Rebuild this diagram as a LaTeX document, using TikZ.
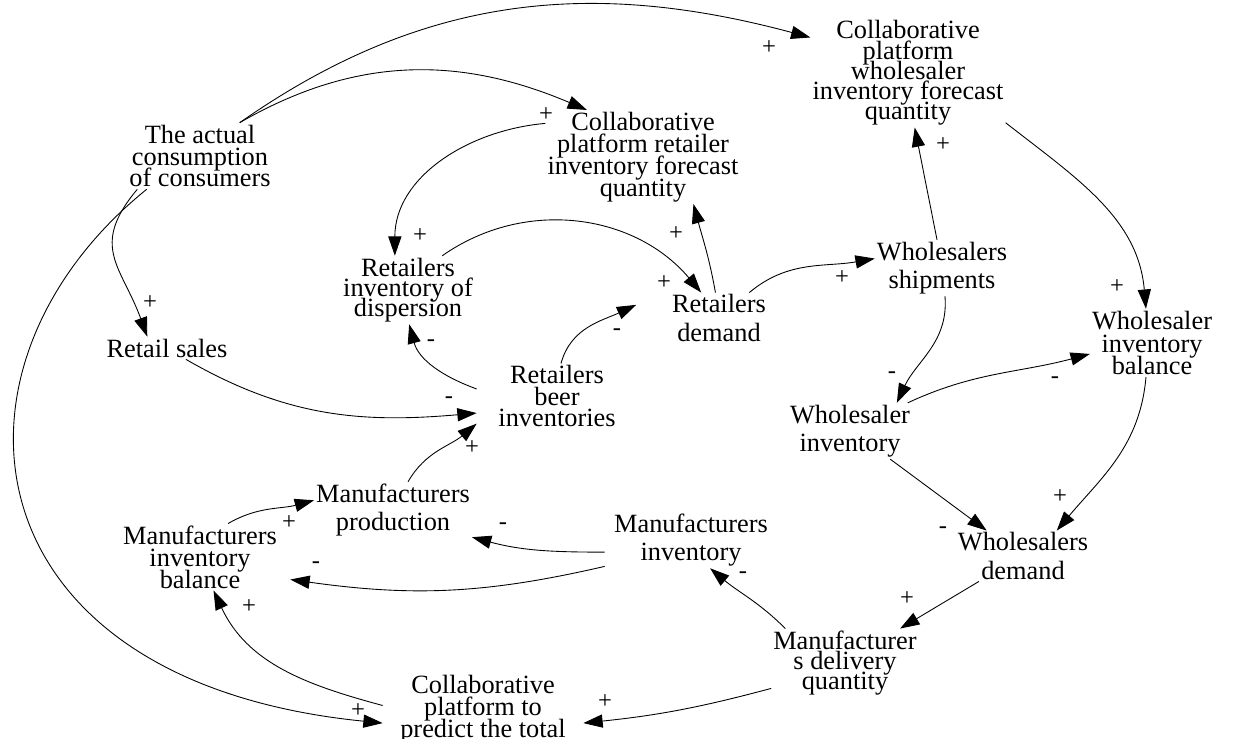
\documentclass[tikz,border=0pt]{standalone}
\usepackage{fontspec}
\setmainfont{Liberation Serif}
\usepackage{tikz}
\usetikzlibrary{arrows.meta}
\newcommand{\varfont}[1]{\fontsize{15}{#1}\selectfont\lineskiplimit=-20pt\relax}
\newcommand{\pairfont}{\fontsize{15}{16}\selectfont}
\newcommand{\signfont}{\fontsize{14}{14}\selectfont}

\begin{document}
\begin{tikzpicture}[
  x=0.02cm, y=0.02cm,
  var/.style={align=center,font=\varfont{12.5},inner sep=1pt},
  pair/.style={var,font=\pairfont},
  sgn/.style={font=\signfont,inner sep=0pt},
  link/.style={-{Triangle[length=11pt,width=7.5pt]},line width=0.5pt}
]
\useasboundingbox (0,0) rectangle (1235,-739);
% variables
\node[var] (actual) at (200,-156) {The actual\\consumption\\of consumers};
\node[var] (retfc) at (643,-157) {Collaborative\\platform retailer\\inventory forecast\\quantity};
\node[var,font=\varfont{11.5}] (whfc) at (908,-73) {Collaborative\\platform\\wholesaler\\inventory forecast\\quantity};
\node[var,font=\varfont{11.5}] (retdisp) at (408,-290) {Retailers\\inventory of\\dispersion};
\node[pair,minimum width=3.3cm] (retdem) at (719,-318) {Retailers\\demand};
\node[pair] (whship) at (942,-268) {Wholesalers\\shipments};
\node[var] (retsales) at (167,-348) {Retail sales};
\node[var,minimum width=3.2cm,font=\varfont{12}] (beer) at (557,-396) {Retailers\\beer\\inventories};
\node[var,font=\varfont{13}] (whbal) at (1152,-343) {Wholesaler\\inventory\\balance};
\node[pair] (whinv) at (850,-431) {Wholesaler\\inventory};
\node[pair] (mprod) at (393,-510) {Manufacturers\\production};
\node[pair,minimum width=3.44cm] (minv) at (691,-540) {Manufacturers\\inventory};
\node[var,minimum width=3.6cm] (mbal) at (200,-557) {Manufacturers\\inventory\\balance};
\node[pair] (whdem) at (1023,-556) {Wholesalers\\demand};
\node[var,font=\varfont{11.5}] (mdel) at (845,-663) {Manufacturer\\s delivery\\quantity};
\node[var,minimum width=4cm] (cptotal) at (483,-709) {Collaborative\\platform to\\predict the total};
% causal links
\draw[link] (actual.40) to[out=35,in=165] (whfc.160);
\draw[link] (actual.40) to[out=30,in=157] (retfc.140);
\draw[link] (retfc.161) to[out=185,in=90] (retdisp.111);
\draw[link] (retdisp.45) to[out=35,in=130] (retdem.125);
\draw[link] (retdem.98) to[out=100,in=-75] (retfc.-43);
\draw[link] (retdem.40) to[out=40,in=190] (whship.172);
\draw[link] (whship.100) -- (whfc.-83);
\draw[link] (whfc.-27) to[out=-38,in=95] (whbal.100);
\draw[link] (beer.175) to[out=160,in=-75] (retdisp.-88);
\draw[link] (beer.83) to[out=75,in=205] (retdem.171);
\draw[link] (retsales.-31) to[out=-30,in=185] (beer.192);
\draw[link] (actual.208) to[out=230,in=110,looseness=1.3] (retsales.150);
\draw[link] (actual.212) .. controls +(-218,-176) and +(-420,42) .. (cptotal.188);
\draw[link] (mprod.62) to[out=60,in=220] (beer.199);
\draw[link] (mbal.50) to[out=30,in=195] (mprod.173);
\draw[link] (minv.188) to[out=180,in=-15] (mprod.-19);
\draw[link] (minv.197) to[out=193,in=352] (mbal.-14);
\draw[link] (cptotal.178) to[out=165,in=-65] (mbal.-68);
\draw[link] (mdel.199) to[out=195,in=6] (cptotal.-8);
\draw[link] (mdel.150) to[out=135,in=-40] (minv.-56);
\draw[link] (whdem.210) -- (mdel.32);
\draw[link] (whship.-84) to[out=-85,in=65] (whinv.31);
\draw[link] (whinv.26) to[out=25,in=195] (whbal.190);
\draw[link] (whinv.-35) -- (whdem.145);
\draw[link] (whbal.-100) to[out=-95,in=50] (whdem.37);
% polarities
\node[sgn] (s1) at (769,-48) {+};
\node[sgn] (s2) at (546,-115) {+};
\node[sgn] (s3) at (420,-236) {+};
\node[sgn] (s4) at (664,-283) {+};
\node[sgn] (s5) at (676,-234) {+};
\node[sgn] (s6) at (842,-278) {+};
\node[sgn] (s7) at (943,-145) {+};
\node[sgn] (s8) at (1117,-287) {+};
\node[sgn] (s9) at (431,-343) {-};
\node[sgn] (s10) at (617,-332) {-};
\node[sgn] (s11) at (449,-400) {-};
\node[sgn] (s12) at (150,-303) {+};
\node[sgn] (s13) at (358,-711) {+};
\node[sgn] (s14) at (472,-448) {+};
\node[sgn] (s15) at (289,-523) {+};
\node[sgn] (s16) at (503,-526) {-};
\node[sgn] (s17) at (316,-565) {-};
\node[sgn] (s18) at (249,-607) {+};
\node[sgn] (s19) at (605,-702) {+};
\node[sgn] (s20) at (743,-575) {-};
\node[sgn] (s21) at (907,-599) {+};
\node[sgn] (s22) at (892,-375) {-};
\node[sgn] (s23) at (1055,-380) {-};
\node[sgn] (s24) at (943,-530) {-};
\node[sgn] (s25) at (1060,-497) {+};
\end{tikzpicture}
\end{document}
